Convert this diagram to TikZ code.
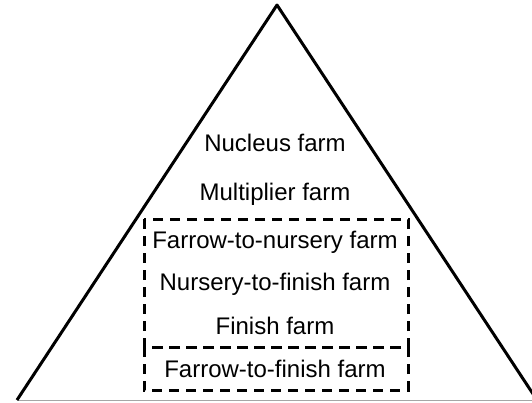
\documentclass[tikz,border=0pt]{standalone}
\usepackage{fontspec}
\setmainfont{Liberation Sans}

\begin{document}
\begin{tikzpicture}[x=1pt,y=-1pt,farm/.style={font=\fontsize{24}{26}\selectfont,inner sep=0pt}]
        \clip(0,0)rectangle(532,402);
        \fill[white](0,0)rectangle(532,402);
        \draw[gray!70,line width=1.8pt](17,400.5)--(540,400.5);
        \draw[line width=3pt,line join=round](17,400)--(277,5)--(537,400);
        \node[farm] (nucleus) at(275,143) {Nucleus farm};
        \node[farm] (multiplier) at(275,194) {Multiplier farm};
        \node[farm] (farrownursery) at(275,242) {Farrow-to-nursery farm};
        \node[farm] (nurseryfinish) at(275,284) {Nursery-to-finish farm};
        \node[farm] (finish) at(275,326) {Finish farm};
        \node[farm] (farrowfinish) at(275,369) {Farrow-to-finish farm};
        \draw[line width=3pt,dash pattern=on 10pt off 7pt](144,219)rectangle(408,347);
        \draw[line width=3pt,dash pattern=on 10pt off 7pt](144,347)rectangle(408,390);
    \end{tikzpicture}
\end{document}
